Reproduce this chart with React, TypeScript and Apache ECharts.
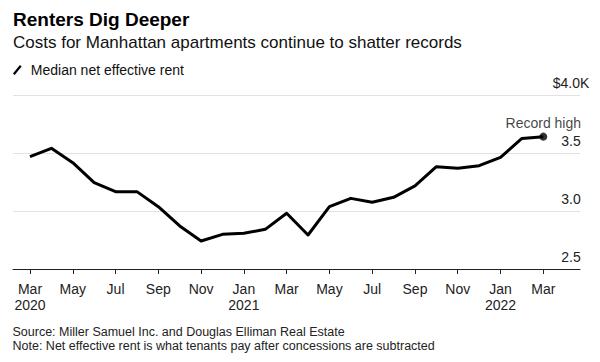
import React, { useEffect, useRef } from "react";
import * as echarts from "echarts";

// Monthly data, Mar 2020 .. Mar 2022 (index 0..24)
const months = [
  "Mar 2020", "Apr 2020", "May 2020", "Jun 2020", "Jul 2020", "Aug 2020", "Sep 2020",
  "Oct 2020", "Nov 2020", "Dec 2020", "Jan 2021", "Feb 2021", "Mar 2021", "Apr 2021",
  "May 2021", "Jun 2021", "Jul 2021", "Aug 2021", "Sep 2021", "Oct 2021", "Nov 2021",
  "Dec 2021", "Jan 2022", "Feb 2022", "Mar 2022",
];
// Median net effective rent, $K
const rent = [
  3.468, 3.54, 3.417, 3.244, 3.167, 3.167, 3.037, 2.871, 2.741, 2.799, 2.808, 2.842,
  2.98, 2.793, 3.037, 3.109, 3.075, 3.118, 3.216, 3.382, 3.368, 3.391, 3.463, 3.626, 3.641,
];
const xTickIndex = [0, 2, 4, 6, 8, 10, 12, 14, 16, 18, 20, 22, 24];
const xTickLabels = [
  "Mar\n2020", "May", "Jul", "Sep", "Nov", "Jan\n2021", "Mar",
  "May", "Jul", "Sep", "Nov", "Jan\n2022", "Mar",
];
const yMin = 2.5;
const yMax = 4.0;
const yStep = 0.5;

const FONT = '"Liberation Sans", Arial, Helvetica, sans-serif';

export default function App() {
  const ref = useRef<HTMLDivElement>(null);

  useEffect(() => {
    if (!ref.current) return;
    const chart = echarts.init(ref.current, null, { renderer: "svg" });
    const last = rent.length - 1;
    const lineData = rent.map((v, i) => [i, v]);

    chart.setOption({
      animation: false,
      backgroundColor: "#ffffff",
      textStyle: { fontFamily: FONT },
      title: [
        {
          text: "Renters Dig Deeper",
          left: 13,
          top: 10,
          padding: 0,
          textStyle: { fontFamily: FONT, fontSize: 19, fontWeight: "bold", color: "#000" },
        },
        {
          text: "Costs for Manhattan apartments continue to shatter records",
          left: 13,
          top: 34,
          padding: 0,
          textStyle: { fontFamily: FONT, fontSize: 17, fontWeight: "normal", color: "#111" },
        },
        {
          text: "Source: Miller Samuel Inc. and Douglas Elliman Real Estate",
          left: 12.5,
          top: 325,
          padding: 0,
          textStyle: { fontFamily: FONT, fontSize: 12.5, fontWeight: "normal", color: "#222" },
        },
        {
          text: "Note: Net effective rent is what tenants pay after concessions are subtracted",
          left: 12.5,
          top: 339,
          padding: 0,
          textStyle: { fontFamily: FONT, fontSize: 12.5, fontWeight: "normal", color: "#222" },
        },
      ],
      legend: {
        data: [
          {
            name: "Median net effective rent",
            icon: "path://M0,10 L8,0 L10,1.6 L2,11.6 Z",
          },
        ],
        left: 13,
        top: 63,
        itemWidth: 9,
        itemHeight: 10,
        padding: 0,
        selectedMode: false,
        textStyle: {
          fontFamily: FONT,
          fontSize: 14,
          color: "#111",
          padding: [0, 0, 0, 4],
        },
      },
      grid: {
        left: 13,
        right: 20,
        top: 95,
        bottom: 93,
        containLabel: false,
        outerBoundsMode: "none",
      },
      xAxis: {
        type: "value",
        min: -0.795,
        max: 25.716,
        z: 3,
        axisLine: { show: true, lineStyle: { color: "#222", width: 1 } },
        axisTick: {
          show: true,
          length: 5,
          customValues: xTickIndex,
          lineStyle: { color: "#222", width: 1 },
        },
        splitLine: { show: false },
        axisLabel: {
          customValues: xTickIndex,
          margin: 12,
          fontFamily: FONT,
          fontSize: 14,
          lineHeight: 16,
          color: "#222",
          formatter: (v: number) => {
            const k = xTickIndex.indexOf(Math.round(v));
            return k >= 0 ? xTickLabels[k] : "";
          },
        },
      },
      yAxis: {
        type: "value",
        position: "right",
        min: yMin,
        max: yMax,
        interval: yStep,
        axisLine: { show: false },
        axisTick: { show: false },
        splitLine: { show: true, lineStyle: { color: "#e2e2e2", width: 1 } },
        axisLabel: {
          inside: true,
          margin: 9,
          align: "center",
          verticalAlign: "bottom",
          padding: [0, 0, 5, 0],
          fontFamily: FONT,
          fontSize: 14,
          color: "#222",
          formatter: (v: number) => (Math.abs(v - yMax) < 1e-9 ? "$4.0K" : v.toFixed(1)),
        },
      },
      series: [
        {
          name: "Median net effective rent",
          type: "line",
          data: lineData,
          showSymbol: false,
          symbol: "none",
          lineStyle: { color: "#000", width: 3, join: "round" },
          itemStyle: { color: "#000" },
          z: 4,
        },
        {
          name: "record",
          type: "scatter",
          data: [
            {
              value: [last, rent[last]],
              label: {
                show: true,
                position: "top",
                distance: 3,
                formatter: "Record high",
                fontFamily: FONT,
                fontSize: 14,
                color: "#111",
              },
            },
          ],
          symbol: "circle",
          symbolSize: 8,
          itemStyle: { color: "#000" },
          z: 5,
        },
      ],
    });

    return () => chart.dispose();
  }, []);

  return (
    <div
      ref={ref}
      style={{ position: "fixed", left: 0, top: 0, width: 600, height: 362 }}
    />
  );
}
